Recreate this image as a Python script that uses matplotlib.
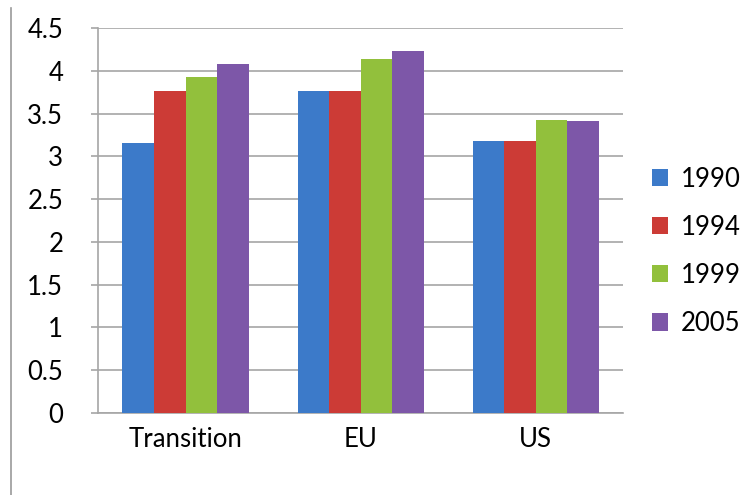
import numpy as np
import matplotlib
matplotlib.use('Agg')
from matplotlib import pyplot as plt
from matplotlib.lines import Line2D

plt.rcParams['font.family'] = ['Lato', 'DejaVu Sans']

# データ
categories = ['Transition', 'EU', 'US']
years = ['1990', '1994', '1999', '2005']
v1990 = [3.16, 3.76, 3.18]
v1994 = [3.77, 3.76, 3.18]
v1999 = [3.93, 4.14, 3.43]
v2005 = [4.08, 4.23, 3.42]
series = [v1990, v1994, v1999, v2005]
colors = ['#3c7ac9', '#cc3b36', '#92c03c', '#7d57a8']

fig = plt.figure(figsize=(7.48, 4.95), dpi=100)
ax = fig.add_axes([0.131, 0.166, 0.702, 0.777])

x = np.arange(len(categories))
w = 0.18
for i, (vals, c, lab) in enumerate(zip(series, colors, years)):
    ax.bar(x + (i - 1.5) * w, vals, width=w, color=c, label=lab, zorder=3)

ax.set_xlim(-0.5, 2.5)
ax.set_ylim(0, 4.5)
ax.set_yticks(np.arange(0, 4.51, 0.5))
ax.set_yticklabels(['0', '0.5', '1', '1.5', '2', '2.5', '3', '3.5', '4', '4.5'])
ax.set_xticks(x)
ax.set_xticklabels(categories)
ax.yaxis.grid(True, color='#a6a6a6', linewidth=1.2, zorder=0)
ax.tick_params(axis='y', labelsize=18.5, length=5, color='#a6a6a6', pad=20, width=1.2)
ax.tick_params(axis='x', labelsize=18.5, length=0, pad=10)
for s in ['top', 'right']:
    ax.spines[s].set_visible(False)
for s in ['left', 'bottom']:
    ax.spines[s].set_color('#a6a6a6')
    ax.spines[s].set_linewidth(1.2)

ax.legend(loc='center left', bbox_to_anchor=(1.025, 0.42), frameon=False,
          fontsize=18.5, handlelength=0.65, handleheight=0.65, labelspacing=0.9,
          handletextpad=0.5, borderaxespad=0.2)

# 左端の枠線
fig.add_artist(Line2D([11 / 748, 11 / 748], [0, 487 / 495], color='#9a9a9a',
                      linewidth=1.2, transform=fig.transFigure))

fig.savefig('out.png', dpi=100)
